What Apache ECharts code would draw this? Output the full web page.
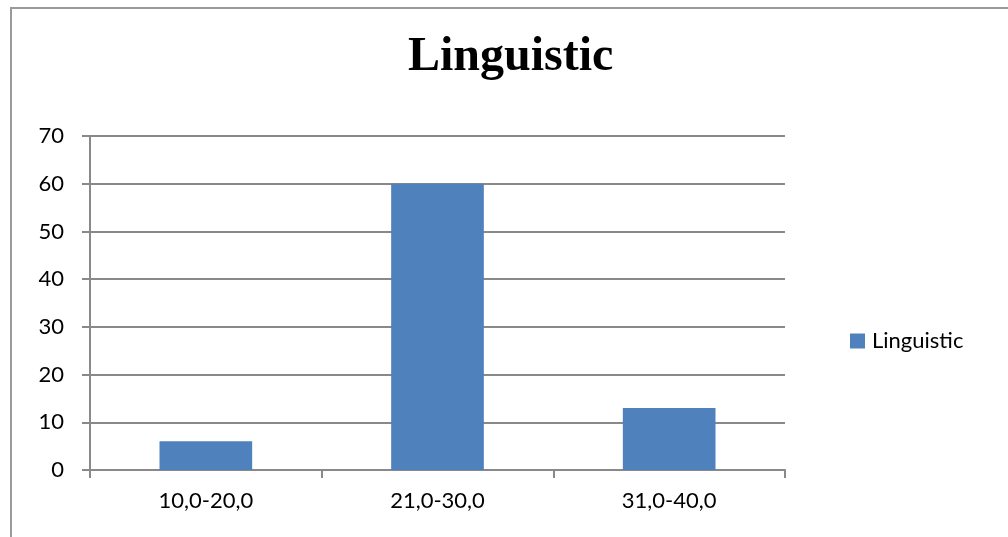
<!DOCTYPE html>
<html>
<head>
<meta charset="utf-8">
<script src="https://cdn.jsdelivr.net/npm/echarts@6/dist/echarts.min.js"></script>
<style>
html,body{margin:0;padding:0;background:#fff;}
#chart{width:1008px;height:537px;}
</style>
</head>
<body>
<div id="chart"></div>
<script>
// Score ranges and the number of respondents in each
const categories = ['10,0-20,0', '21,0-30,0', '31,0-40,0'];
const linguisticValues = [6, 60, 13];
const seriesName = 'Linguistic';
const chartTitle = 'Linguistic';

const axisGray = '#898989';
const labelFont = 'Lato, "Open Sans", sans-serif';

const chart = echarts.init(document.getElementById('chart'), null, { renderer: 'canvas' });
chart.setOption({
  backgroundColor: '#ffffff',
  animation: false,
  graphic: [{
    type: 'rect',
    shape: { x: 11, y: 8, width: 1200, height: 800 },
    style: { fill: 'none', stroke: '#9a9a9a', lineWidth: 2 },
    silent: true
  }],
  title: {
    text: chartTitle,
    left: 408,
    top: 34,
    padding: 0,
    textStyle: {
      fontFamily: '"Liberation Serif", "Times New Roman", serif',
      fontWeight: 'bold',
      fontSize: 48,
      color: '#000'
    }
  },
  legend: {
    orient: 'vertical',
    left: 845,
    top: 325,
    itemWidth: 15,
    itemHeight: 15,
    itemGap: 8,
    icon: 'rect',
    textStyle: { fontFamily: labelFont, fontSize: 22, color: '#000', padding: [0, 0, 0, 2] },
    data: [seriesName]
  },
  grid: { left: 90, right: 223, top: 136, bottom: 67, containLabel: false },
  xAxis: {
    type: 'category',
    data: categories,
    boundaryGap: true,
    axisLine: { show: true, lineStyle: { color: axisGray, width: 2 } },
    axisTick: { show: true, length: 8, alignWithLabel: false, lineStyle: { color: axisGray, width: 2 } },
    axisLabel: { fontFamily: labelFont, fontSize: 22, color: '#000', margin: 20 }
  },
  yAxis: {
    type: 'value',
    min: 0,
    max: 70,
    interval: 10,
    axisLine: { show: true, lineStyle: { color: axisGray, width: 2 } },
    axisTick: { show: true, length: 8, lineStyle: { color: axisGray, width: 2 } },
    splitLine: { show: true, lineStyle: { color: axisGray, width: 2 } },
    axisLabel: { fontFamily: labelFont, fontSize: 22, color: '#000', margin: 26 }
  },
  series: [{
    name: seriesName,
    type: 'bar',
    data: linguisticValues,
    barWidth: '40%',
    itemStyle: { color: '#4f81bd' }
  }]
});
</script>
</body>
</html>
